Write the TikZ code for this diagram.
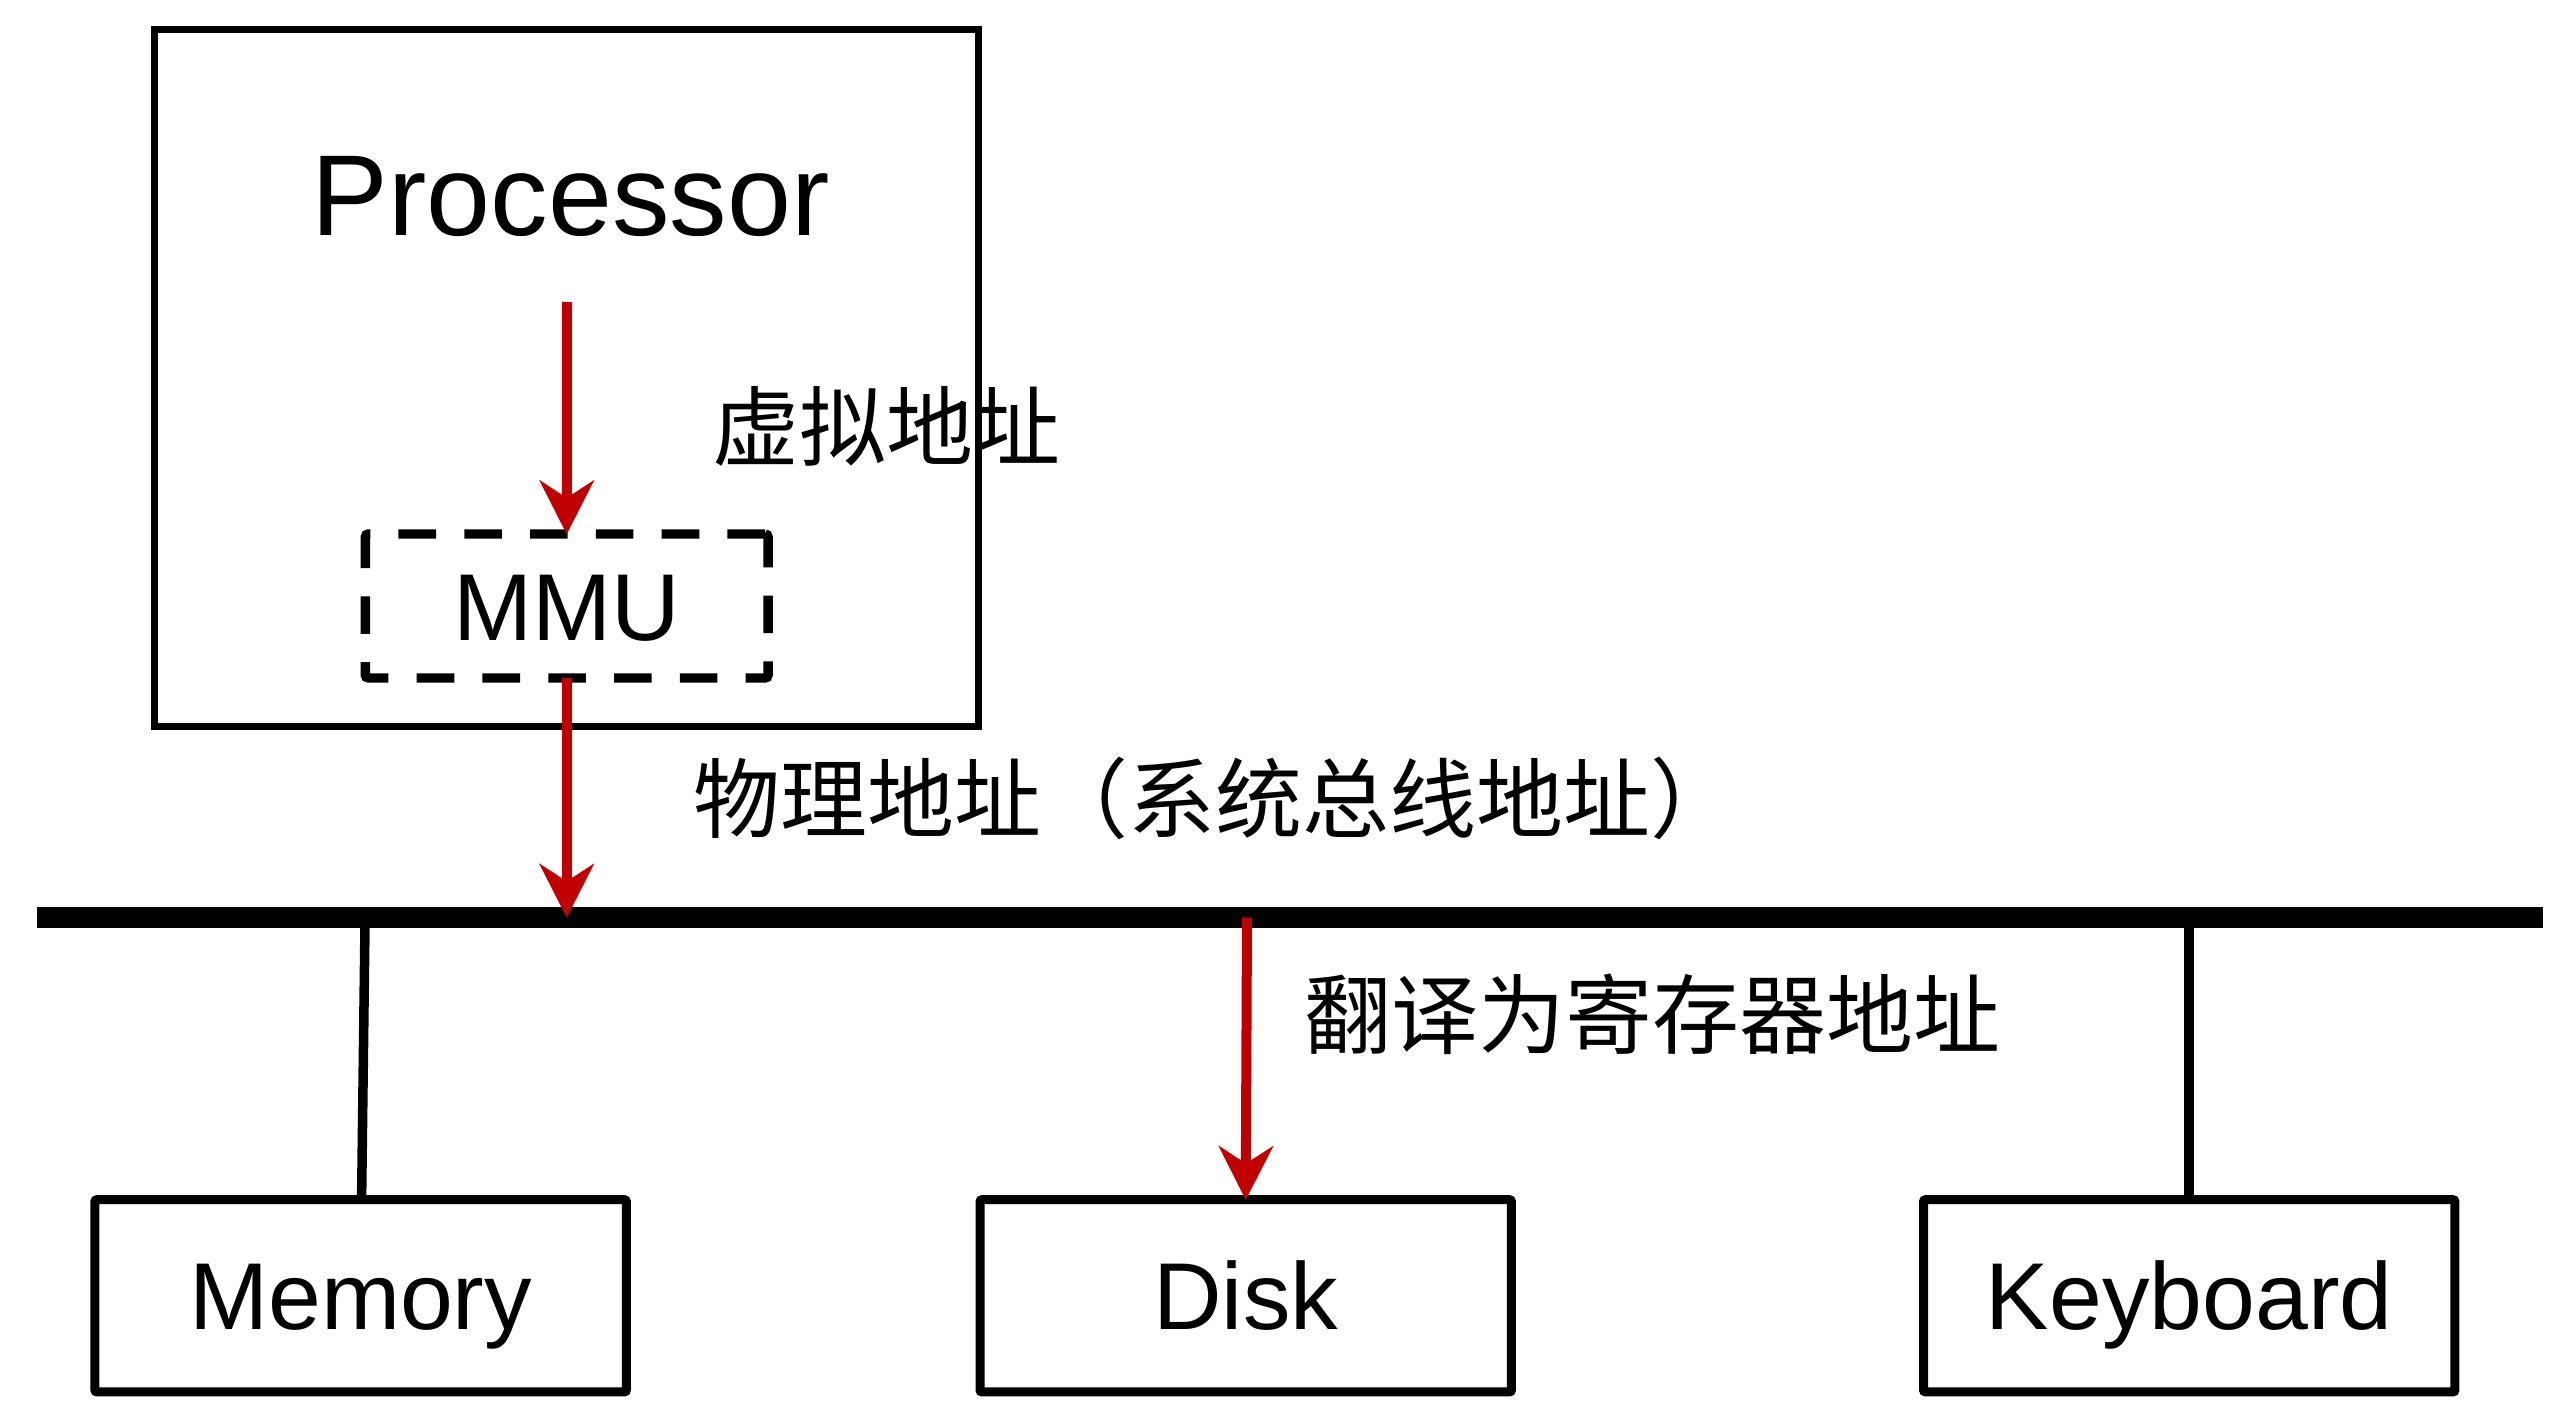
\documentclass[tikz,border=0pt]{standalone}
\usepackage{fontspec}
\setmainfont{Liberation Sans}
\newfontfamily\cjk{Noto Sans CJK SC}
\usetikzlibrary{arrows.meta}
\definecolor{arrowred}{HTML}{C00000}
\tikzset{
  box/.style={draw, line width=9pt, rounded corners=2pt, inner sep=0pt, outer sep=0pt,
    minimum width=531.4pt, minimum height=192.2pt, text height=68pt, text depth=0pt,
    font=\fontsize{95}{110}\selectfont},
  mmubox/.style={draw, line width=9.4pt, dash pattern=on 37.6pt off 28.2pt, rounded corners=3pt,
    inner sep=0pt, outer sep=0pt, minimum width=402.7pt, minimum height=144pt,
    text height=68pt, text depth=0pt, font=\fontsize{95}{110}\selectfont},
  procbox/.style={draw, line width=7pt, inner sep=0pt, outer sep=0pt,
    minimum width=823.5pt, minimum height=696pt},
  busbar/.style={fill=black, inner sep=0pt, outer sep=0pt, minimum width=2506pt, minimum height=21pt},
  redarrow/.style={draw=arrowred, line width=10pt,
    -{Stealth[length=54pt, width=55pt, inset=18pt, line width=0.01pt, fill=arrowred]}},
  conn/.style={draw=black, line width=9.5pt},
  cjklabel/.style={anchor=base west, inner sep=0pt, font=\cjk\fontsize{87}{100}\selectfont},
}
\begin{document}
\begin{tikzpicture}[x=1pt, y=-1pt]
  \useasboundingbox (0,0) rectangle (2574,1423);
  \fill[white] (0,0) rectangle (2574,1423);

  % Processor box
  \node[procbox] (proc) at (566.25,378) {};
  \node[anchor=base, inner sep=0pt, font=\fontsize{115}{130}\selectfont] (ptext) at (570.7,235.6) {Processor};

  % MMU
  \node[mmubox] (mmu) at (566.7,606) {MMU};

  % Bus
  \node[busbar] (bus) at (1290,917.5) {};

  % Devices
  \node[box] (mem) at (360.6,1295.8) {Memory};
  \node[box] (disk) at (1245.7,1295.8) {Disk};
  \node[box] (kbd) at (2189.2,1295.8) {Keyboard};

  % Connectors from bus to devices
  \draw[conn] ([xshift=4.5pt]mem.north |- bus.center) -- ([xshift=1pt]mem.north);
  \draw[conn] (kbd.north |- bus.center) -- (kbd.north);

  % Red arrows
  \coordinate (vstart) at (567,302);
  \draw[redarrow] (vstart) -- (mmu.north);
  \draw[redarrow] (mmu.south) -- (mmu.south |- bus.center);
  \draw[redarrow] ([xshift=1.3pt]disk.north |- bus.center) -- (disk.north);

  % Labels
  \node[cjklabel] (lv) at (712,459) {虚拟地址};
  \node[cjklabel] (lp) at (693,831) {物理地址（系统总线地址）};
  \node[cjklabel] (lr) at (1304,1047) {翻译为寄存器地址};
\end{tikzpicture}
\end{document}
